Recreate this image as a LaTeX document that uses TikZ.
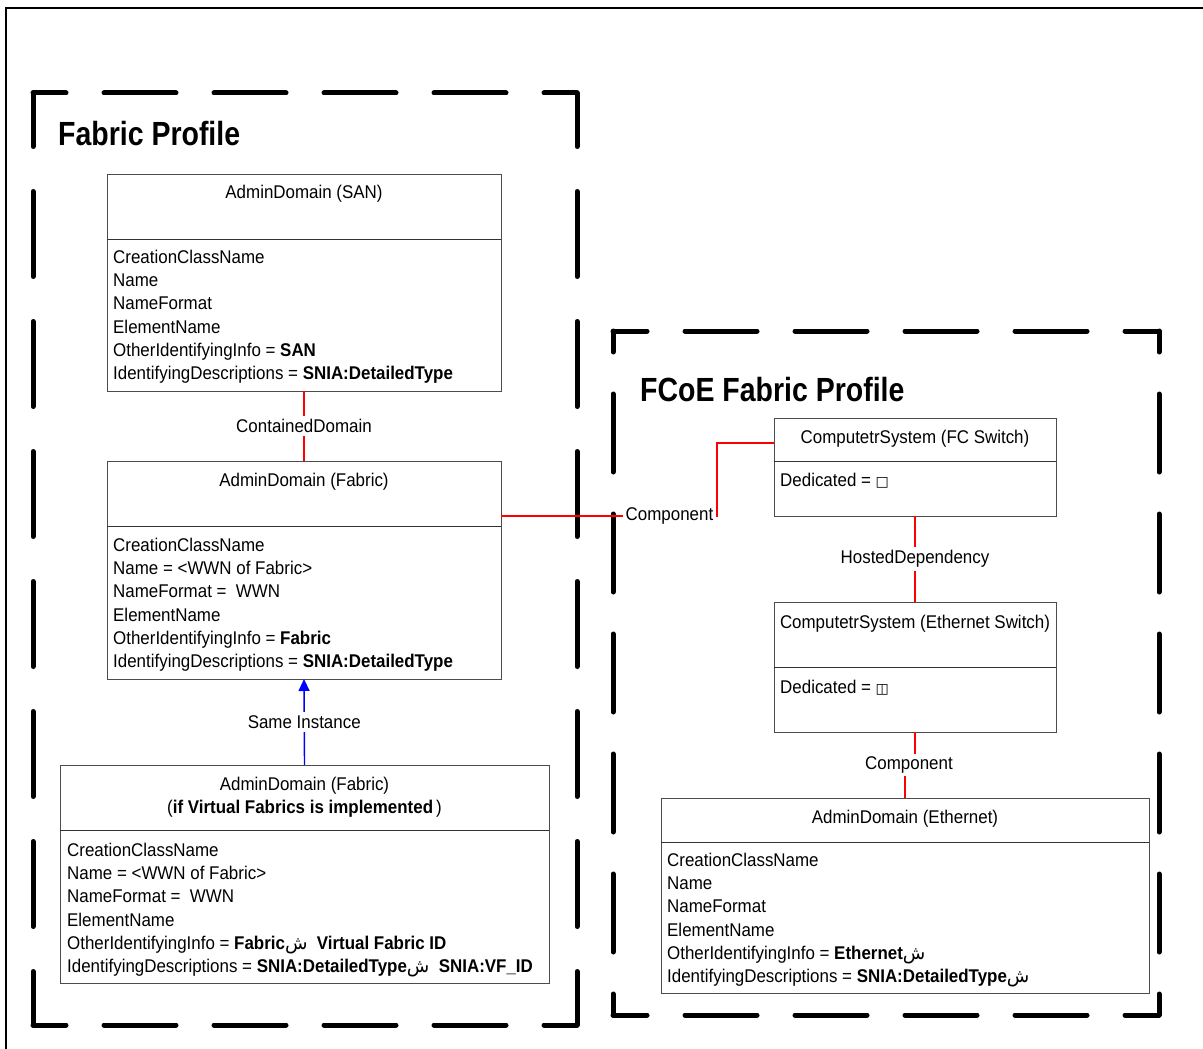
\documentclass[tikz,border=0pt]{standalone}
\usepackage{fontspec}
\setmainfont{Liberation Sans}[FakeStretch=0.92]
\newfontfamily\titlefont{Liberation Sans}[FakeStretch=0.85]
\newfontfamily\arabicfont[Script=Arabic]{DejaVu Sans}
\newfontfamily\dejavu{DejaVu Sans}
\usetikzlibrary{positioning,arrows.meta}

\newcommand\shin{{\arabicfont ش}}
\newcommand\boxglyph[1]{{\dejavu\fontsize{14}{14}\selectfont #1}}

\tikzset{
  cls/.style={draw=black!70, line width=1pt, fill=white, inner sep=0pt, outer sep=0pt},
  clsline/.style={black!80, line width=1pt},
  hd/.style={font=\fontsize{18.4}{23.2}\selectfont, anchor=base, inner sep=0pt},
  attr/.style={font=\fontsize{18.4}{23.2}\selectfont, anchor=north west, align=left, inner sep=0pt},
  lbl/.style={font=\fontsize{18.4}{23.2}\selectfont, text=black, fill=white, inner sep=3pt},
  rel/.style={draw=red, line width=1.4pt},
  inst/.style={draw=blue, line width=1.4pt, -{Triangle[length=12pt,width=11pt]}},
  zone/.style={line width=5pt, line cap=round},
  ttl/.style={font=\titlefont\fontsize{33.5}{36}\selectfont\bfseries, anchor=base west, inner sep=0pt}
}

\begin{document}
\begin{tikzpicture}[x=1pt,y=-1pt]
\useasboundingbox (0,0) rectangle (1203,1049);
\draw[line width=2.5pt] (6,1049) -- (6,8) -- (1203,8);

% profiles
\draw[zone, dash pattern=on 72pt off 38pt, dash phase=39pt] (33,93) -- (577,93) (33,1025) -- (577,1025);
\draw[zone, dash pattern=on 85pt off 45pt, dash phase=31.5pt] (33,93) -- (33,1025) (577,93) -- (577,1025);
\draw[zone, dash pattern=on 72pt off 38pt, dash phase=38pt] (613,331) -- (1159,331) (613,1015) -- (1159,1015);
\draw[zone, dash pattern=on 78pt off 42pt, dash phase=57pt] (613,331) -- (613,1015) (1159,331) -- (1159,1015);
\node[ttl] (fpT) at (58,145) {Fabric Profile};
\node[ttl] (ffpT) at (640,401) {FCoE Fabric Profile};

% AdminDomain (SAN)
\node[cls, minimum width=394, minimum height=217] (san) at (304,282.5) {};
\draw[clsline] (107,239) -- (501,239);
\node[hd] (sanT) at (304,198) {AdminDomain (SAN)};
\node[attr] (sanA) at (113,250) {CreationClassName\\Name\\NameFormat\\ElementName\\
  OtherIdentifyingInfo = \textbf{SAN}\\IdentifyingDescriptions = \textbf{SNIA:DetailedType}};

% AdminDomain (Fabric)
\node[cls, minimum width=394, minimum height=218] (fab) at (304,570) {};
\draw[clsline] (107,526) -- (501,526);
\node[hd] (fabT) at (304,486) {AdminDomain (Fabric)};
\node[attr] (fabA) at (113,538) {CreationClassName\\Name = <WWN of Fabric>\\NameFormat =~ WWN\\ElementName\\
  OtherIdentifyingInfo = \textbf{Fabric}\\IdentifyingDescriptions = \textbf{SNIA:DetailedType}};

% AdminDomain (Fabric), virtual fabrics
\node[cls, minimum width=489, minimum height=218] (vfab) at (304.5,874) {};
\draw[clsline] (60,830) -- (549,830);
\node[hd, anchor=north, align=center] (vfabT) at (304.5,777) {AdminDomain (Fabric)\\(\textbf{if Virtual Fabrics is implemented}\,)};
\node[attr] (vfabA) at (67,843) {CreationClassName\\Name = <WWN of Fabric>\\NameFormat =~ WWN\\ElementName\\
  OtherIdentifyingInfo = \textbf{Fabric}\shin~ \textbf{Virtual Fabric ID}\\
  IdentifyingDescriptions = \textbf{SNIA:DetailedType}\shin~ \textbf{SNIA:VF\_ID}};

% ComputetrSystem (FC Switch)
\node[cls, minimum width=282, minimum height=98] (fcsw) at (915,467) {};
\draw[clsline] (774,461) -- (1056,461);
\node[hd] (fcswT) at (915,443) {ComputetrSystem (FC Switch)};
\node[attr] (fcswA) at (780,473) {Dedicated = \boxglyph{□}};

% ComputetrSystem (Ethernet Switch)
\node[cls, minimum width=282, minimum height=130] (ethsw) at (915,667) {};
\draw[clsline] (774,667) -- (1056,667);
\node[hd] (ethswT) at (915,628) {ComputetrSystem (Ethernet Switch)};
\node[attr] (ethswA) at (780,680) {Dedicated = \boxglyph{◫}};

% AdminDomain (Ethernet)
\node[cls, minimum width=488, minimum height=195] (eth) at (905,895.5) {};
\draw[clsline] (661,842) -- (1149,842);
\node[hd] (ethT) at (905,823) {AdminDomain (Ethernet)};
\node[attr] (ethA) at (667,853) {CreationClassName\\Name\\NameFormat\\ElementName\\
  OtherIdentifyingInfo =~\textbf{Ethernet}\shin\\IdentifyingDescriptions = \textbf{SNIA:DetailedType}\shin};

% associations
\coordinate (cj) at (717,516);
\coordinate (cj2) at (909,765);
\draw[rel] (san.south) -- (fab.north) node[lbl, midway] (cd) {ContainedDomain};
\draw[inst] (vfab.north) -- (fab.south) node[lbl, midway] (si) {Same Instance};
\draw[rel] (fab.east |- cj) -- node[lbl, pos=0.78] (comp1) {Component} (cj) |- (fcsw.west |- 0,443);
\draw[rel] (fcsw.south) -- (ethsw.north) node[lbl, midway] (hdep) {HostedDependency};
\draw[rel] (ethsw.south) |- (cj2) -| (eth.north);
\node[lbl] (comp2) at (cj2) {Component};
\end{tikzpicture}
\end{document}
